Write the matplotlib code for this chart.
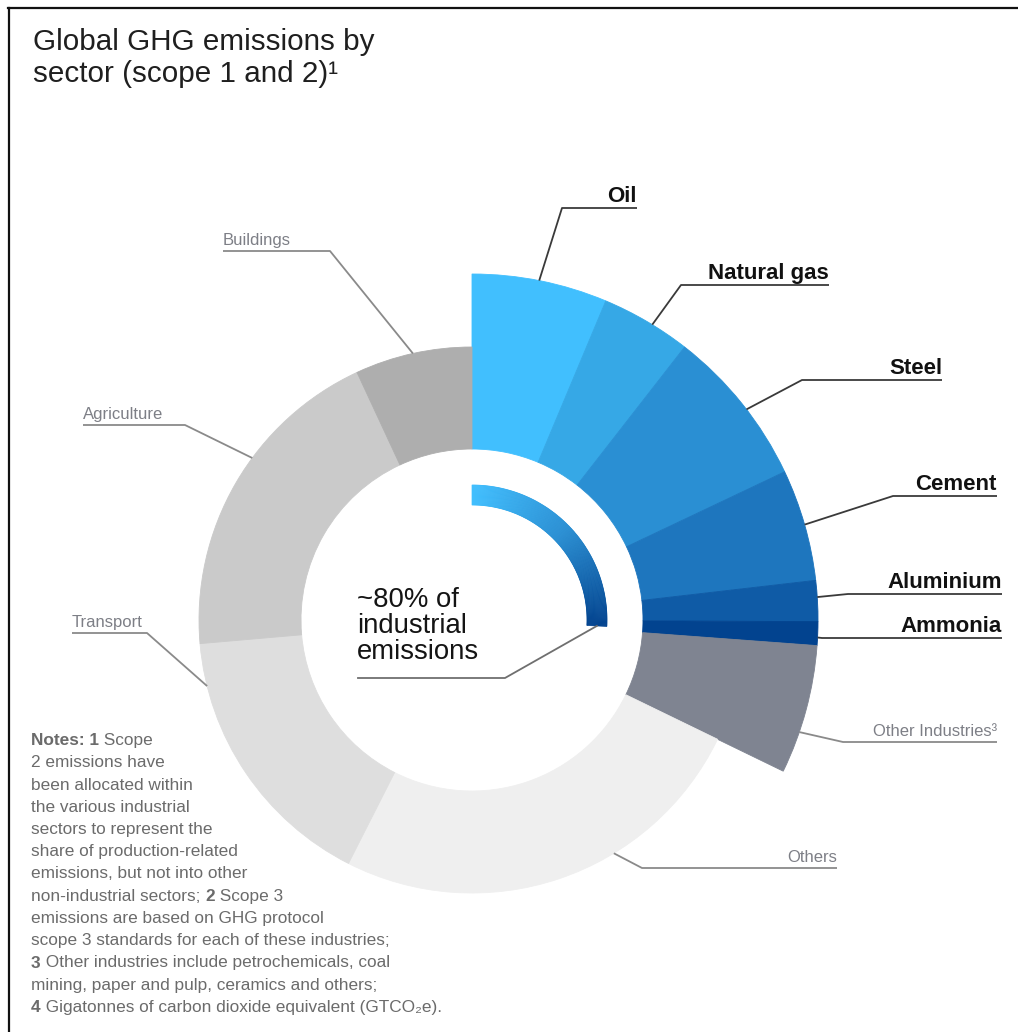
import numpy as np
import matplotlib.pyplot as plt
from matplotlib.patches import Wedge
from matplotlib.colors import LinearSegmentedColormap

plt.rcParams['font.family'] = ['Liberation Sans', 'DejaVu Sans']

# share of global GHG emissions by sector, %
sectors = ["Oil", "Natural gas", "Steel", "Cement", "Aluminium", "Ammonia",
           "Other Industries³", "Others", "Transport", "Agriculture", "Buildings"]
share = [6.3, 4.2, 7.4, 5.2, 1.9, 1.1, 6.0, 25.2, 16.1, 19.4, 6.9]
industrial = [True, True, True, True, True, True, True, False, False, False, False]
highlight = [True, True, True, True, True, True, False, False, False, False, False]
colors = ["#41bffe", "#36a8e6", "#2a8fd3", "#1e76be", "#0f5ba6", "#02438f",
          "#7f8491", "#efefef", "#dedede", "#cacaca", "#aeaeae"]
inner_share = 80  # "~80% of industrial emissions"

title = "Global GHG emissions by\nsector (scope 1 and 2)¹"
center_text = ["~80% of", "industrial", "emissions"]
notes = [
    [("Notes: 1", True), (" Scope", False)],
    [("2 emissions have", False)],
    [("been allocated within", False)],
    [("the various industrial", False)],
    [("sectors to represent the", False)],
    [("share of production-related", False)],
    [("emissions, but not into other", False)],
    [("non-industrial sectors; ", False), ("2", True), (" Scope 3", False)],
    [("emissions are based on GHG protocol", False)],
    [("scope 3 standards for each of these industries;", False)],
    [("3", True), (" Other industries include petrochemicals, coal", False)],
    [("mining, paper and pulp, ceramics and others;", False)],
    [("4", True), (" Gigatonnes of carbon dioxide equivalent (GTCO₂e).", False)],
]

# label layout in pixels: angle where the leader touches, elbow x, elbow y, line end x
label_layout = {
    "Oil": (78.8, 562, 208, 637),
    "Natural gas": (58.6, 681, 285, 829),
    "Steel": (37.5, 802, 380, 942),
    "Cement": (16.0, 893, 496, 997),
    "Aluminium": (3.8, 848, 594, 1002),
    "Ammonia": (-2.9, 822, 638, 1002),
    "Other Industries³": (-18.9, 843, 742, 997),
    "Others": (-58.7, 642, 868, 837),
    "Transport": (194.0, 147, 633, 72),
    "Agriculture": (143.6, 185, 425, 83),
    "Buildings": (102.5, 330, 251, 223),
}

W, H = 1018, 1032
fig = plt.figure(figsize=(W / 100, H / 100), dpi=100)
ax = fig.add_axes([0, 0, 1, 1])

cx, cy = 472, H - 620
r_ind, r_rest, r_in = 346, 273, 171

ind_colors = [c if i else 'none' for c, i in zip(colors, industrial)]
rest_colors = [c if not i else 'none' for c, i in zip(colors, industrial)]
w1, _ = ax.pie(share, colors=ind_colors, radius=r_ind, center=(cx, cy),
               startangle=90, counterclock=False,
               wedgeprops=dict(width=r_ind - r_in, linewidth=0))
w2, _ = ax.pie(share, colors=rest_colors, radius=r_rest, center=(cx, cy),
               startangle=90, counterclock=False,
               wedgeprops=dict(width=r_rest - r_in, linewidth=0))
for w in list(w1) + list(w2):
    fc = w.get_facecolor()
    if fc[3] > 0:
        w.set_edgecolor(fc)
        w.set_linewidth(0.6)

# inner gradient arc: ~80% of the industrial span
ind_span = 360 * sum(s for s, i in zip(share, industrial) if i) / sum(share)
arc_span = ind_span * inner_share / 100
cmap = LinearSegmentedColormap.from_list("arc", [colors[0], colors[2], colors[5]])
n = 200
for k in range(n):
    t1 = 90 - arc_span * k / n
    t2 = 90 - arc_span * (k + 1) / n
    ax.add_patch(Wedge((cx, cy), 135, t2, t1, width=20, facecolor=cmap(k / (n - 1)),
                       edgecolor=cmap(k / (n - 1)), linewidth=0.5))

# leaders and labels
for name, ind, hl in zip(sectors, industrial, highlight):
    ang, ex, ey, lx = label_layout[name]
    r = r_ind if ind else r_rest
    px = cx + r * np.cos(np.radians(ang))
    py = cy + r * np.sin(np.radians(ang))
    lc = '#3a3a3a' if hl else '#8a8a8a'
    ax.plot([px, ex, lx], [py, H - ey, H - ey], color=lc, lw=1.3, solid_capstyle='butt')
    ha = 'right' if lx > ex else 'left'
    if hl:
        ax.text(lx, H - ey + 6, name, ha=ha, va='baseline', fontsize=16,
                fontweight='bold', color='#111111')
    else:
        ax.text(lx, H - ey + 6, name, ha=ha, va='baseline', fontsize=12,
                color='#7d7f86')

# center text with its leader to the arc end
for i, line in enumerate(center_text):
    ax.text(357, H - (607 + 26 * i), line, ha='left', va='baseline',
            fontsize=19.8, color='#141414')
ae = np.radians(90 - arc_span)
ax.plot([358, 505, cx + 125 * np.cos(ae)], [H - 678, H - 678, cy + 125 * np.sin(ae)],
        color='#6f6f6f', lw=1.3)

# title
ax.text(33, H - 50, title.split("\n")[0], ha='left', va='baseline', fontsize=21.3,
        color='#1f1f1f')
ax.text(33, H - 82, title.split("\n")[1], ha='left', va='baseline', fontsize=21.3,
        color='#1f1f1f')

# notes
note_color = '#6b6b6b'
for i, parts in enumerate(notes):
    y = H - (745 + 22.25 * i)
    prev = None
    for txt, bold in parts:
        kw = dict(fontsize=12.4, color=note_color, fontweight='bold' if bold else 'normal')
        if prev is None:
            prev = ax.text(31, y, txt, ha='left', va='baseline', **kw)
        else:
            prev = ax.annotate(txt, xy=(1, 0), xycoords=prev, ha='left', va='bottom', **kw)

# frame
ax.plot([8, W], [H - 8, H - 8], color='#111111', lw=1.6, clip_on=False)
ax.plot([9, 9], [H - 8, 0], color='#111111', lw=1.6, clip_on=False)

ax.set_xlim(0, W)
ax.set_ylim(0, H)
ax.axis('off')

fig.savefig("out.png", dpi=100)
